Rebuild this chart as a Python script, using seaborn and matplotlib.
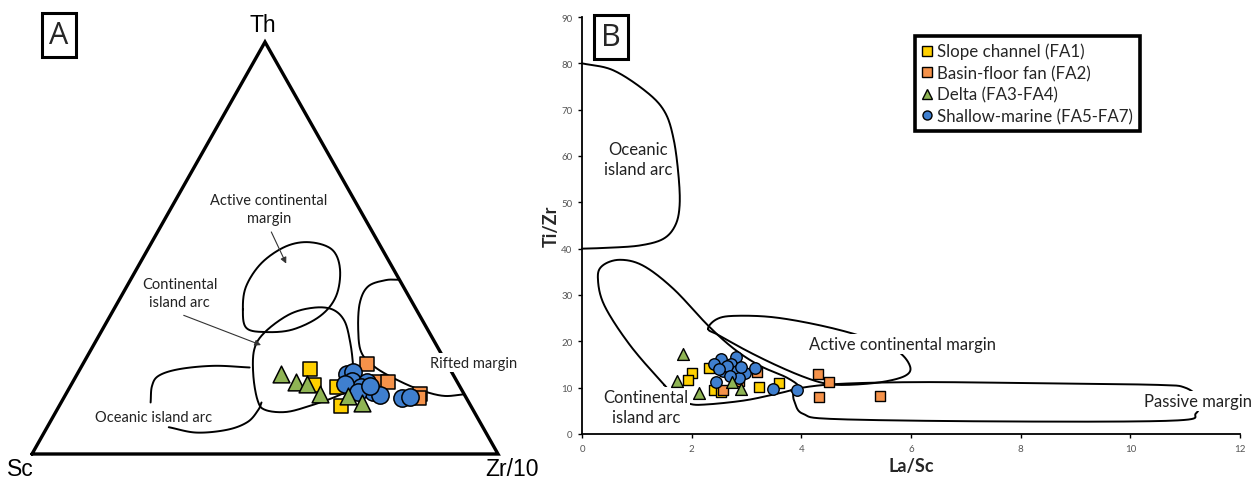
import numpy as np
import pandas as pd
import matplotlib
matplotlib.use("Agg")
import matplotlib.pyplot as plt
import seaborn as sns
from matplotlib.lines import Line2D

sns.set_theme(style="white")
plt.rcParams["font.family"] = ["Lato", "DejaVu Sans"]

# ---------------- data ----------------
facies = ["Slope channel (FA1)", "Basin-floor fan (FA2)", "Delta (FA3-FA4)", "Shallow-marine (FA5-FA7)"]
colors = ["#FFD000", "#F5924A", "#8FB454", "#3F7FCF"]
markers = ["s", "s", "^", "o"]

# Panel A: Th-Sc-Zr/10 ternary (fractions; Sc = 1 - Th - Zr)
A_th = {
    facies[0]: [0.206, 0.167, 0.162, 0.117],
    facies[1]: [0.218, 0.175, 0.175, 0.146, 0.135],
    facies[2]: [0.194, 0.175, 0.171, 0.146, 0.140, 0.125],
    facies[3]: [0.194, 0.198, 0.178, 0.175, 0.162, 0.151, 0.143, 0.135, 0.138, 0.170, 0.150, 0.166],
}
A_zr = {
    facies[0]: [0.494, 0.522, 0.574, 0.604],
    facies[1]: [0.609, 0.658, 0.677, 0.760, 0.762],
    facies[2]: [0.437, 0.479, 0.504, 0.545, 0.609, 0.645],
    facies[3]: [0.578, 0.590, 0.597, 0.631, 0.624, 0.657, 0.676, 0.726, 0.742, 0.587, 0.625, 0.642],
}

# Panel B: La/Sc vs Ti/Zr
B_lasc = {
    facies[0]: [2.01, 1.93, 2.32, 2.40, 2.53, 3.22, 3.60],
    facies[1]: [2.57, 3.19, 2.86, 4.30, 4.50, 4.33, 5.44],
    facies[2]: [1.85, 1.74, 2.14, 2.73, 2.90],
    facies[3]: [2.54, 2.40, 2.81, 2.72, 2.58, 2.82, 2.97, 3.16, 2.45, 2.86, 3.49, 3.92, 2.65, 2.50, 2.70, 2.90],
}
B_tizr = {
    facies[0]: [13.2, 11.7, 14.2, 9.6, 9.0, 10.2, 10.9],
    facies[1]: [9.4, 13.3, 11.5, 13.0, 11.3, 7.9, 8.3],
    facies[2]: [17.3, 11.5, 8.8, 11.2, 9.7],
    facies[3]: [16.2, 15.1, 16.6, 15.1, 13.7, 13.7, 13.1, 14.2, 11.2, 12.1, 9.7, 9.6, 14.6, 14.0, 12.5, 14.5],
}

# Panel A field outlines (Th, Zr fractions)
A_acm = [(0.351, 0.277), (0.407, 0.256), (0.464, 0.261), (0.504, 0.293), (0.514, 0.339), (0.496, 0.396),
         (0.448, 0.437), (0.383, 0.461), (0.335, 0.451), (0.302, 0.408), (0.296, 0.352), (0.306, 0.307)]
A_cia = [(0.296, 0.352), (0.339, 0.383), (0.355, 0.426), (0.351, 0.469), (0.323, 0.509), (0.270, 0.548),
         (0.214, 0.582), (0.165, 0.607), (0.141, 0.585), (0.117, 0.538), (0.102, 0.494), (0.107, 0.447),
         (0.129, 0.420), (0.190, 0.380), (0.254, 0.350)]
A_rift = [(0.423, 0.577), (0.422, 0.548), (0.407, 0.518), (0.367, 0.520), (0.302, 0.549), (0.246, 0.584),
          (0.210, 0.632), (0.177, 0.700), (0.153, 0.763), (0.141, 0.814), (0.145, 0.855)]
A_oia_top = [(0.210, 0.362), (0.214, 0.283), (0.206, 0.213), (0.190, 0.177), (0.165, 0.175), (0.125, 0.192)]
A_oia_bot = [(0.065, 0.261), (0.052, 0.327), (0.059, 0.390), (0.078, 0.424), (0.107, 0.432), (0.125, 0.430)]

# Panel B field outlines (La/Sc, Ti/Zr)
B_oia = [(0, 80), (0.57, 78.5), (1.18, 73.8), (1.51, 69.5), (1.67, 63.7), (1.76, 55.8), (1.78, 49.3),
         (1.70, 45.0), (1.48, 42.1), (1.06, 40.7), (0.5, 40.2), (0, 40)]
B_cia = [(1.50, 10.6), (0.88, 19.1), (0.41, 27.7), (0.29, 33.5), (0.37, 36.3), (0.69, 37.6), (1.12, 36.3),
         (1.67, 31.3), (2.30, 23.4), (2.78, 18.3), (3.25, 14.7), (3.73, 12.2), (3.96, 10.2), (3.80, 9.4),
         (3.41, 8.3), (2.94, 7.2), (2.30, 6.4), (1.97, 6.5), (1.70, 8.3)]
B_acm = [(2.30, 22.7), (2.46, 24.8), (2.78, 25.5), (3.49, 25.2), (4.36, 23.4), (5.15, 20.9), (5.74, 18.0),
         (5.98, 14.7), (5.90, 12.6), (5.46, 11.2), (4.83, 10.6), (4.44, 10.9), (4.05, 12.3), (3.55, 14.8),
         (3.00, 18.0), (2.50, 21.3)]
B_pm = [(3.88, 9.7), (4.67, 10.8), (6.25, 11.2), (8.62, 10.9), (10.5, 10.6), (11.0, 10.0), (11.25, 7.5),
        (11.2, 4.5), (10.8, 2.9), (7.83, 2.7), (4.67, 3.2), (4.04, 4.3), (3.88, 6.8), (3.85, 8.8)]


def smooth(pts, closed=False, n=24):
    P = np.asarray(pts, float)
    if closed:
        P = np.vstack([P[-1], P, P[0], P[1]])
    else:
        P = np.vstack([2 * P[0] - P[1], P, 2 * P[-1] - P[-2]])
    out = []
    t = np.linspace(0, 1, n, endpoint=False)[:, None]
    for i in range(1, len(P) - 2):
        p0, p1, p2, p3 = P[i - 1], P[i], P[i + 1], P[i + 2]
        seg = 0.5 * ((2 * p1) + (-p0 + p2) * t + (2 * p0 - 5 * p1 + 4 * p2 - p3) * t ** 2
                     + (-p0 + 3 * p1 - 3 * p2 + p3) * t ** 3)
        out.append(seg)
    out.append(P[-2][None])
    return np.vstack(out)


def tern(th, zr):
    th = np.asarray(th, float)
    zr = np.asarray(zr, float)
    return zr + th / 2.0, th


def tern_pts(pts):
    a = np.asarray(pts, float)
    x, y = tern(a[:, 0], a[:, 1])
    return np.column_stack([x, y])


rowsA, rowsB = [], []
for f in facies:
    for th, zr in zip(A_th[f], A_zr[f]):
        x, y = tern(th, zr)
        rowsA.append((f, float(x), float(y)))
    for la, ti in zip(B_lasc[f], B_tizr[f]):
        rowsB.append((f, la, ti))
dfA = pd.DataFrame(rowsA, columns=["facies", "x", "y"])
dfB = pd.DataFrame(rowsB, columns=["facies", "La/Sc", "Ti/Zr"])
pal = dict(zip(facies, colors))
mk = dict(zip(facies, markers))

W, H = 1257, 481
fig = plt.figure(figsize=(W / 100, H / 100), dpi=100)
fig.patch.set_facecolor("white")

# ---------------- Panel A ----------------
axA = fig.add_axes([32 / W, (H - 455) / H, 466 / W, 412 / H])
axA.set_xlim(0, 1)
axA.set_ylim(0, 1)
axA.axis("off")
axA.plot([0, 1, 0.5, 0], [0, 0, 1, 0], color="black", lw=2.4, solid_joinstyle="miter", clip_on=False, zorder=2)

lw_f = 1.4
c = smooth(tern_pts(A_acm), closed=True)
axA.plot(c[:, 0], c[:, 1], color="black", lw=lw_f, zorder=2)
c = smooth(tern_pts(A_cia), closed=True)
axA.plot(c[:, 0], c[:, 1], color="black", lw=lw_f, zorder=2)
for pts in (A_rift, A_oia_top, A_oia_bot):
    c = smooth(tern_pts(pts))
    axA.plot(c[:, 0], c[:, 1], color="black", lw=lw_f, zorder=2)

sizesA = {facies[0]: 115, facies[1]: 115, facies[2]: 145, facies[3]: 155}
for f in [facies[0], facies[1], facies[3], facies[2]]:
    sub = dfA[dfA.facies == f]
    sns.scatterplot(data=sub, x="x", y="y", ax=axA, color=pal[f], marker=mk[f], s=sizesA[f],
                    edgecolor="black", linewidth=1.1, legend=False, zorder=5, clip_on=False)
axA.set_xlabel("")
axA.set_ylabel("")
axA.axis("off")

lblA = dict(fontsize=10.5, color="#222222", ha="center", va="center", zorder=6)
axA.text(0.508, 0.594, "Active continental\nmargin", linespacing=1.35, **lblA)
axA.annotate("", xy=(0.548, 0.456), xytext=(0.511, 0.545),
             arrowprops=dict(arrowstyle="-|>", color="#333333", lw=0.8, mutation_scale=9))
axA.text(0.317, 0.390, "Continental\nisland arc", linespacing=1.35, **lblA)
axA.annotate("", xy=(0.497, 0.262), xytext=(0.320, 0.339),
             arrowprops=dict(arrowstyle="-|>", color="#333333", lw=0.8, mutation_scale=9))
axA.text(0.947, 0.222, "Rifted margin",
         bbox=dict(boxstyle="square,pad=0.15", fc="white", ec="none"), **lblA)
axA.text(0.261, 0.089, "Oceanic island arc", **lblA)

vfont = dict(family=["Liberation Sans", "DejaVu Sans"], fontsize=16.5, color="black")
fig.text(263 / W, 1 - 25 / H, "Th", ha="center", va="center", **vfont)
fig.text(20 / W, 1 - 470 / H, "Sc", ha="center", va="center", **vfont)
fig.text(485 / W, 1 - 470 / H, "Zr/10", ha="left", va="center", **vfont)

boxlab = dict(fontsize=22, ha="center", va="center", family=["Open Sans", "DejaVu Sans"],
              bbox=dict(boxstyle="square,pad=0.24", fc="white", ec="black", lw=2.2))
fig.text(59 / W, 1 - 36 / H, "A", **boxlab)
fig.text(611 / W, 1 - 38 / H, "B", **boxlab)

# ---------------- Panel B ----------------
axB = fig.add_axes([582 / W, (H - 435) / H, 658 / W, 417 / H])
axB.set_xlim(0, 12)
axB.set_ylim(0, 90)

c = smooth(B_oia)
axB.plot(c[:, 0], c[:, 1], color="black", lw=lw_f, zorder=2, clip_on=False)
c = smooth(B_cia, closed=True)
axB.plot(c[:, 0], c[:, 1], color="black", lw=lw_f, zorder=2)
c = smooth(B_acm, closed=True)
axB.plot(c[:, 0], c[:, 1], color="black", lw=lw_f, zorder=2)
c = smooth(B_pm, closed=True)
axB.plot(c[:, 0], c[:, 1], color="black", lw=lw_f, zorder=2)

sizesB = {facies[0]: 58, facies[1]: 58, facies[2]: 72, facies[3]: 68}
for f in [facies[0], facies[1], facies[3], facies[2]]:
    sub = dfB[dfB.facies == f]
    sns.scatterplot(data=sub, x="La/Sc", y="Ti/Zr", ax=axB, color=pal[f], marker=mk[f], s=sizesB[f],
                    edgecolor="black", linewidth=1.0, legend=False, zorder=5)

lblB = dict(fontsize=12, color="#222222", ha="center", va="center", zorder=4)
wb = dict(boxstyle="square,pad=0.1", fc="white", ec="none")
axB.text(1.02, 59.4, "Oceanic\nisland arc", linespacing=1.3, **lblB)
axB.text(5.84, 19.4, "Active continental margin", bbox=wb, **lblB)
axB.text(1.17, 5.9, "Continental\nisland arc", linespacing=1.3, bbox=wb, **lblB)
axB.text(11.24, 7.1, "Passive margin", bbox=wb, **lblB)

axB.set_xticks(np.arange(0, 13, 2))
axB.set_yticks(np.arange(0, 91, 10))
axB.tick_params(axis="both", direction="out", length=3, width=1, colors="black",
                labelsize=7, labelcolor="#555555", pad=4, left=True, bottom=True)
for s in ["top", "right"]:
    axB.spines[s].set_visible(False)
for s in ["left", "bottom"]:
    axB.spines[s].set_color("black")
    axB.spines[s].set_linewidth(1.3)
axB.set_xlabel("La/Sc", fontsize=13, fontweight="bold", labelpad=3)
axB.set_ylabel("Ti/Zr", fontsize=13, fontweight="bold", labelpad=1)

handles = [Line2D([], [], linestyle="none", marker=m, markerfacecolor=c_, markeredgecolor="black",
                  markeredgewidth=1.0, markersize=7 if m == "s" else 6.5)
           for m, c_ in zip(markers, colors)]
leg = axB.legend(handles, facies, loc="upper left", bbox_to_anchor=(0.506, 0.955), frameon=True,
                 fancybox=False, edgecolor="black", framealpha=1, fontsize=12.2, handlelength=0.6,
                 handletextpad=0.3, borderpad=0.42, labelspacing=0.32, borderaxespad=0)
leg.get_frame().set_linewidth(2.6)
leg.set_zorder(10)

fig.savefig("out.png", dpi=100, facecolor="white")
